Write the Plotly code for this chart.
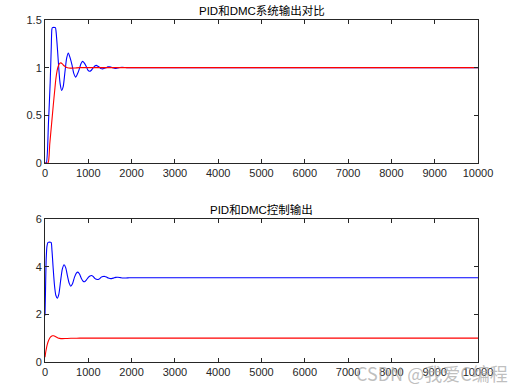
import plotly.graph_objects as go
from plotly.subplots import make_subplots

# ---- data ----
pid_out_t = [0, 30, 80, 120, 145, 158, 170, 240, 255, 290, 320, 350, 385, 420, 462, 500, 539, 575, 623, 665, 707, 745,
             788, 830, 869, 905, 950, 990, 1030, 1065, 1107, 1150, 1184, 1220, 1257, 1295, 1330, 1370, 1410, 1450, 1484,
             1520, 1560, 1600, 1640, 1680, 1730, 1780, 1840, 1900, 2000, 2200, 10000]
pid_out_y = [0, 0, 0.42, 0.85, 1.22, 1.40, 1.42, 1.42, 1.38, 1.18, 0.98, 0.83, 0.761, 0.80, 0.96, 1.10, 1.154, 1.11, 1.03,
             0.94, 0.90, 0.93, 0.98, 1.04, 1.066, 1.05, 1.015, 0.975, 0.962, 0.97, 0.995, 1.018, 1.024, 1.015, 1.005, 0.99,
             0.987, 0.993, 1.0, 1.008, 1.01, 1.006, 1.0, 0.995, 0.993, 0.996, 1.002, 1.004, 1.002, 0.999, 0.999, 1.0, 1.0]

dmc_out_t = [0, 70, 110, 150, 190, 224, 250, 280, 310, 340, 365, 400, 440, 490, 550, 620, 700, 800, 10000]
dmc_out_y = [0, 0, 0.2, 0.4, 0.6, 0.76, 0.88, 0.97, 1.02, 1.045, 1.05, 1.04, 1.02, 1.005, 0.997, 0.995, 0.997, 1.0, 1.0]

pid_u_t = [0, 10, 25, 45, 70, 140, 160, 190, 220, 250, 285, 320, 360, 400, 440, 480, 520, 560, 595, 635, 680, 720, 761,
           800, 840, 880, 915, 955, 1000, 1040, 1072, 1110, 1150, 1190, 1225, 1265, 1300, 1340, 1380, 1420, 1460, 1500,
           1535, 1580, 1630, 1683, 1740, 1800, 1870, 1950, 2100, 10000]
pid_u_y = [1.95, 2.8, 4.2, 4.85, 5.02, 5.02, 4.7, 3.9, 3.2, 2.8, 2.68, 2.85, 3.4, 3.9, 4.08, 3.95, 3.6, 3.3, 3.18, 3.28,
           3.55, 3.72, 3.77, 3.68, 3.5, 3.39, 3.37, 3.44, 3.55, 3.61, 3.63, 3.59, 3.51, 3.47, 3.465, 3.5, 3.56, 3.585,
           3.59, 3.565, 3.52, 3.5, 3.5, 3.52, 3.55, 3.555, 3.54, 3.525, 3.525, 3.535, 3.535, 3.535]

dmc_u_t = [0, 20, 50, 90, 130, 170, 200, 240, 290, 340, 400, 480, 600, 800, 10000]
dmc_u_y = [0.2, 0.45, 0.72, 0.93, 1.05, 1.1, 1.1, 1.07, 1.02, 0.99, 0.98, 0.985, 0.995, 1.0, 1.0]

x_ticks = [0, 1000, 2000, 3000, 4000, 5000, 6000, 7000, 8000, 9000, 10000]
x_labels = ["0", "1000", "2000", "3000", "4000", "5000", "6000", "7000", "8000", "9000", "10000"]
y1_ticks = [0, 0.5, 1, 1.5]
y1_labels = ["0", "0.5", "1", "1.5"]
y2_ticks = [0, 2, 4, 6]
y2_labels = ["0", "2", "4", "6"]

title1 = "PID和DMC系统输出对比"
title2 = "PID和DMC控制输出"
watermark = "CSDN @我爱C编程"

# ---- figure ----
W, H = 526, 390
ml, mr, mt, mb = 45, 48, 20, 28
fig = make_subplots(rows=2, cols=1)

BLUE = "#0000FF"
RED = "#FF0000"
lw = 1.1
ln = dict(width=lw, shape="spline", smoothing=0.6)

fig.add_trace(go.Scatter(x=pid_out_t, y=pid_out_y, mode="lines", line=dict(color=BLUE, **ln)), row=1, col=1)
fig.add_trace(go.Scatter(x=dmc_out_t, y=dmc_out_y, mode="lines", line=dict(color=RED, **ln)), row=1, col=1)
fig.add_trace(go.Scatter(x=pid_u_t, y=pid_u_y, mode="lines", line=dict(color=BLUE, **ln)), row=2, col=1)
fig.add_trace(go.Scatter(x=dmc_u_t, y=dmc_u_y, mode="lines", line=dict(color=RED, **ln)), row=2, col=1)

plot_h = H - mt - mb
plot_w = W - ml - mr
top_dom = [(362 - 163) / plot_h, 1.0]
bot_dom = [0.0, (362 - 219) / plot_h]

axis_col = "#262626"
tickfont = dict(family="Liberation Sans, Arial, sans-serif", size=11, color=axis_col)
common_x = dict(range=[0, 10000], tickvals=x_ticks, ticktext=x_labels, showline=True, linecolor=axis_col, linewidth=1,
                mirror="ticks", ticks="inside", ticklen=4, tickcolor=axis_col, showgrid=False, zeroline=False,
                tickfont=tickfont, automargin=False)
common_y = dict(showline=True, linecolor=axis_col, linewidth=1, mirror="ticks", ticks="inside", ticklen=4,
                tickcolor=axis_col, showgrid=False, zeroline=False, tickfont=tickfont, automargin=False)

fig.update_layout(
    width=W, height=H,
    margin=dict(l=ml, r=mr, t=mt, b=mb, pad=0, autoexpand=False),
    paper_bgcolor="white", plot_bgcolor="white",
    showlegend=False,
    xaxis=dict(**common_x, anchor="y"),
    yaxis=dict(**common_y, range=[0, 1.5], tickvals=y1_ticks, ticktext=y1_labels, domain=top_dom, anchor="x"),
    xaxis2=dict(**common_x, anchor="y2"),
    yaxis2=dict(**common_y, range=[0, 6], tickvals=y2_ticks, ticktext=y2_labels, domain=bot_dom, anchor="x2"),
)

tfont = dict(family="Liberation Sans, Noto Sans CJK SC, sans-serif", size=11.5, color="#000000")
fig.add_annotation(text=title1, x=0.5, xref="paper", y=top_dom[1], yref="paper", yanchor="bottom", yshift=1,
                   showarrow=False, font=tfont)
fig.add_annotation(text=title2, x=0.5, xref="paper", y=bot_dom[1], yref="paper", yanchor="bottom", yshift=1,
                   showarrow=False, font=tfont)
fig.add_annotation(text=watermark, x=(510 - 45) / plot_w, xref="paper", xanchor="right",
                   y=(362 - 373) / plot_h, yref="paper", yanchor="middle", showarrow=False,
                   font=dict(family="Noto Sans CJK SC, sans-serif", size=18, color="rgba(170,170,170,0.75)"))

fig.write_html("out.html", config={"displayModeBar": False},
               post_script="document.body.style.margin='0';")
